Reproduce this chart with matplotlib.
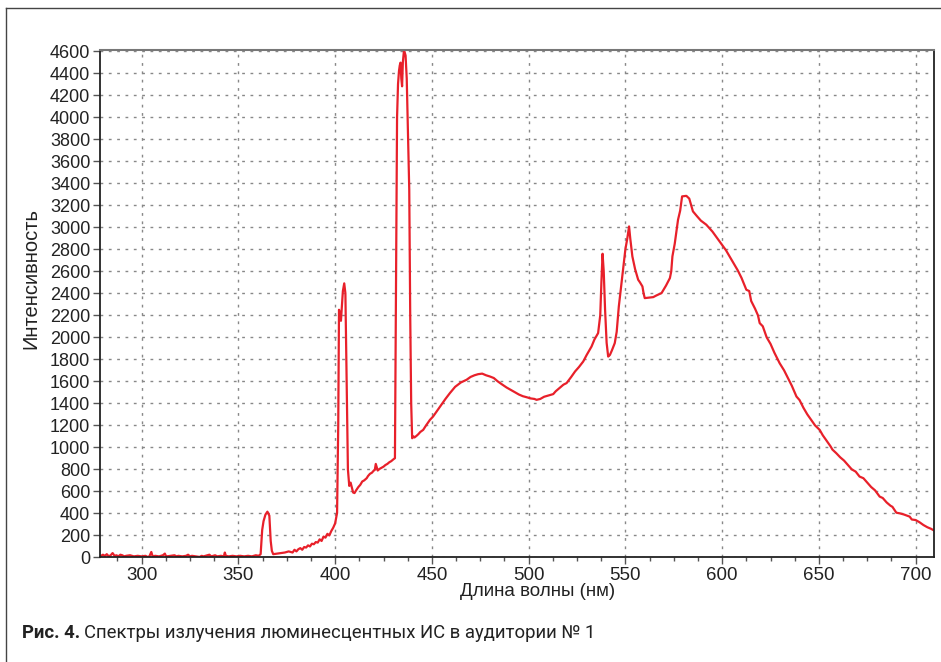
import matplotlib
matplotlib.use("Agg")
import matplotlib.pyplot as plt
from matplotlib.ticker import MultipleLocator
from matplotlib.lines import Line2D

# spectrum: wavelength (nm) and intensity
wavelength = [
    278.5, 280, 281, 282, 283, 284, 285, 286, 287, 288, 289, 290, 291, 292,
    294, 296, 298, 300, 302, 303, 304, 305, 305.5, 306, 307, 309, 311, 312,
    312.5, 313, 315, 317, 318, 319, 321, 323, 324, 325, 326, 328, 330, 331,
    332, 334, 335, 336, 337, 338, 339, 341, 342.5, 343, 343.5, 345, 347, 349,
    351, 353, 355, 357, 359, 360.5, 361.5, 362.3, 363, 364, 365, 366, 366.7,
    367.3, 368, 370, 372, 374, 376, 378, 379, 380, 381, 382, 383, 384, 385,
    386, 387, 388, 389, 390, 391, 392, 393, 394, 395, 396, 397, 398, 399,
    400, 401, 401.6, 402, 402.5, 403, 403.5, 404, 404.7, 405.3, 406, 406.6,
    407.3, 408, 408.6, 409.3, 410, 411, 412, 413, 414, 415, 416.3, 417, 418,
    419, 420, 420.5, 421, 422, 423, 424, 425, 426, 427, 428, 429, 430, 430.9,
    431.5, 432, 432.5, 433, 433.4, 433.8, 434.2, 434.6, 435, 435.6, 436.4,
    437, 437.6, 438.3, 438.8, 439.3, 439.8, 440.5, 441, 442, 443, 444, 445.5,
    447, 449, 450.6, 453, 455, 457, 459.3, 462, 465, 467.9, 470, 472, 473.9,
    476, 478, 480, 482, 484, 486, 488.6, 491, 493, 495, 497, 498.9, 501,
    503, 504.1, 506, 508, 510, 512.7, 514, 516, 518, 519.6, 522, 524, 526,
    528.2, 530, 532.5, 534, 535.9, 537, 537.6, 538.2, 538.8, 539.5, 540.3,
    541.1, 542, 543, 544.5, 545.5, 546.6, 547.7, 548.8, 550, 551, 551.9,
    552.5, 553.6, 555, 556.6, 557.5, 558.8, 559.4, 560, 562, 564.4, 566,
    568.7, 571, 573, 573.7, 574.3, 575.5, 577.2, 578.3, 579.3, 581.5, 583,
    584.9, 587, 589, 591.8, 595, 598.7, 602, 605, 608, 610, 612.5, 614, 615,
    617, 618.5, 619.4, 621, 623, 625, 627, 629.7, 632, 634, 636, 638.4, 640,
    642, 644, 646, 648, 650.4, 652, 654, 656, 657, 659, 661, 663, 665, 667,
    669, 671, 673, 675, 677, 679, 681.4, 683, 685, 687, 688, 690, 692, 694,
    696.9, 698, 700, 702, 704, 706, 708, 709.5,
]
intensity = [
    10, 25, 15, 30, 10, 20, 40, 15, 20, 10, 25, 20, 10, 15,
    20, 10, 15, 10, 15, 5, 10, 50, 20, 10, 15, 10, 20, 35,
    15, 10, 15, 20, 10, 15, 10, 15, 25, 10, 15, 10, 5, 15,
    10, 20, 25, 10, 15, 20, 10, 15, 10, 45, 15, 10, 15, 10,
    15, 10, 15, 10, 20, 15, 30, 250, 330, 390, 416, 380, 150,
    60, 30, 35, 40, 45, 55, 45, 70, 55, 75, 85, 70, 95, 90,
    110, 100, 125, 120, 140, 135, 165, 150, 190, 180, 215, 200, 240,
    270, 310, 405, 1200, 2250, 2200, 2150, 2280, 2420, 2490, 2400, 1500,
    800, 650, 680, 640, 590, 585, 614, 640, 660, 690, 700, 720, 740, 760,
    770, 790, 795, 850, 790, 805, 815, 825, 840, 850, 865, 875, 890, 902,
    2600, 4000, 4300, 4420, 4470, 4495, 4350, 4280, 4500, 4610, 4560,
    4350, 3900, 3340, 2200, 1400, 1083, 1100, 1090, 1104, 1120, 1140, 1159,
    1200, 1250, 1280, 1340, 1390, 1440, 1493, 1550, 1590, 1614, 1640, 1655,
    1665, 1670, 1655, 1644, 1630, 1600, 1575, 1544, 1520, 1500, 1480, 1465,
    1456, 1445, 1440, 1432, 1440, 1460, 1470, 1484, 1510, 1540, 1570, 1584,
    1640, 1690, 1730, 1780, 1840, 1916, 1980, 2038, 2200, 2500, 2759, 2600,
    2250, 1950, 1825, 1840, 1880, 1947, 2050, 2280, 2450, 2614, 2800, 2900,
    3007, 2900, 2735, 2620, 2523, 2500, 2462, 2400, 2356, 2360, 2365, 2380,
    2402, 2470, 2538, 2600, 2735, 2850, 3068, 3150, 3280, 3285, 3260, 3144,
    3100, 3060, 3023, 2960, 2871, 2790, 2700, 2610, 2540, 2432, 2420, 2330,
    2260, 2200, 2129, 2100, 2000, 1940, 1860, 1765, 1700, 1630, 1560, 1462,
    1430, 1360, 1300, 1250, 1200, 1159, 1110, 1060, 1010, 980, 947, 910,
    880, 840, 800, 780, 735, 720, 680, 640, 610, 553, 540, 500, 470, 460,
    407, 400, 390, 371, 345, 340, 320, 295, 275, 260, 245,
]

x_major = [300, 350, 400, 450, 500, 550, 600, 650, 700]
y_major = list(range(0, 4601, 200))

fig = plt.figure(figsize=(9.41, 6.62), dpi=100)
ax = fig.add_axes([0.1063, 0.1579, 0.8863, 0.7666])

ax.plot(wavelength, intensity, color="#e8202a", lw=1.6, solid_joinstyle="round")

ax.set_xlim(278.5, 709.5)
ax.set_ylim(0, 4610)
ax.set_xticks(x_major)
ax.xaxis.set_minor_locator(MultipleLocator(12.5))
ax.set_yticks(y_major)

ax.grid(True, which="major", color="#888888", linestyle=(0, (2, 4)), lw=1.0)
ax.tick_params(axis="both", which="major", direction="out", length=5, width=1,
               color="#555555")
ax.tick_params(axis="x", which="minor", direction="out", length=3, width=1,
               color="#555555")
ax.tick_params(axis="x", labelsize=13.5, pad=2)
ax.tick_params(axis="y", labelsize=13, pad=2)
for lab in ax.get_xticklabels() + ax.get_yticklabels():
    lab.set_family("Liberation Sans")
    lab.set_color("#222222")

for side in ["left", "bottom", "right"]:
    ax.spines[side].set_color("#222222")
    ax.spines[side].set_linewidth(1.3)
ax.spines["top"].set_color("#777777")
ax.spines["top"].set_linewidth(1.5)

ax.set_xlabel("Длина волны (нм)", fontsize=13.5, family="Liberation Sans",
              color="#222222", labelpad=0)
ax.xaxis.set_label_coords(0.525, -0.05)
ax.set_ylabel("Интенсивность", fontsize=14.5, family="Liberation Sans",
              color="#222222")
ax.yaxis.set_label_coords(-0.072, 0.55)

# outer frame of the figure (only left and top edges are visible)
fig.add_artist(Line2D([5.5 / 941, 5.5 / 941], [0, 1 - 8 / 662],
                      color="#444444", lw=1.0))
fig.add_artist(Line2D([5.5 / 941, 1], [1 - 8 / 662, 1 - 8 / 662],
                      color="#444444", lw=1.0))

# caption: bold "Рис. 4." then regular text
cap_font = ["Roboto", "DejaVu Sans"]
t1 = fig.text(22 / 941, 1 - 633 / 662, "Рис. 4.", fontsize=13.3, fontweight="bold",
              family=cap_font, va="center", ha="left", color="#222222")
fig.canvas.draw()
bb = t1.get_window_extent()
fig.text((bb.x1 + 4) / 941, 1 - 633 / 662,
         "Спектры излучения люминесцентных ИС в аудитории № 1", fontsize=13.3,
         family=cap_font, va="center", ha="left", color="#222222")

fig.savefig("out.png", dpi=100)
